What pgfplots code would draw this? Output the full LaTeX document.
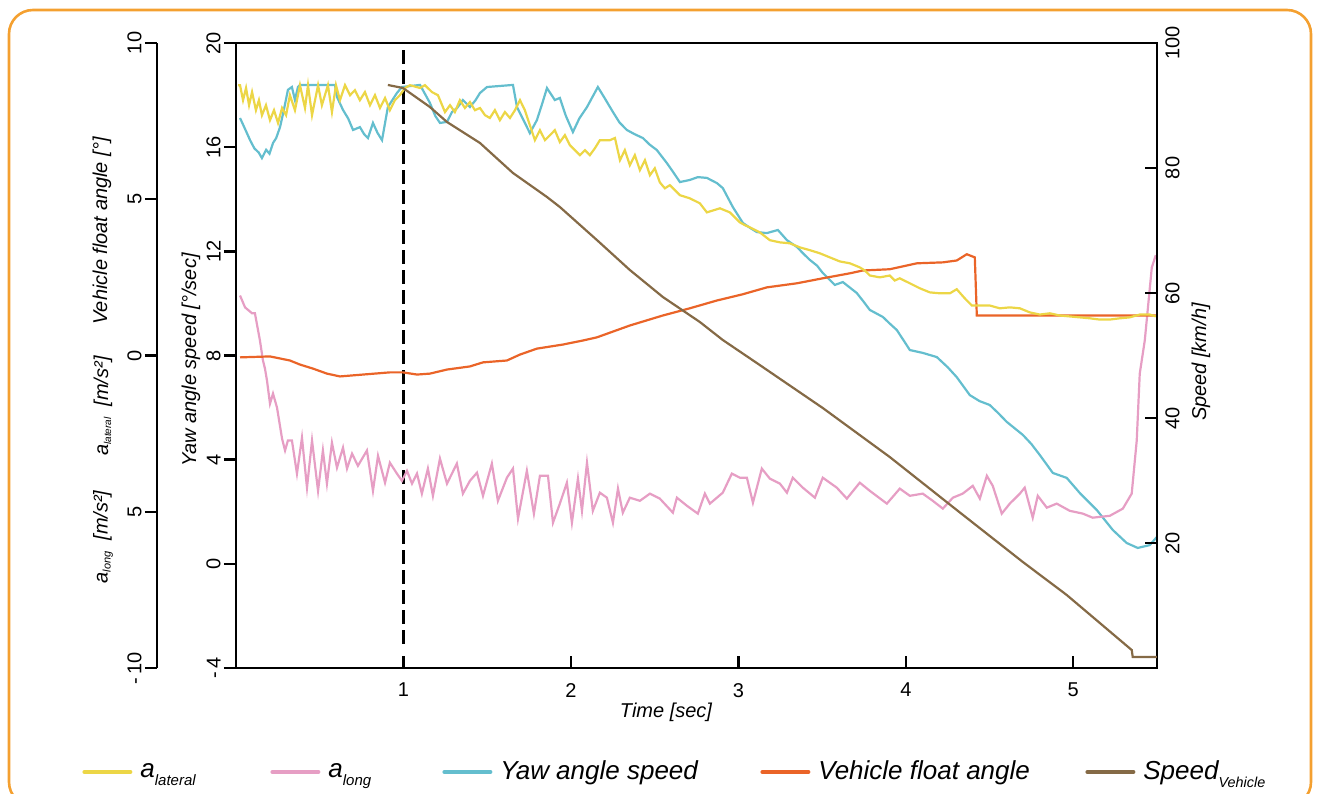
\documentclass[border=0pt]{standalone}
\usepackage{fontspec}
\setmainfont{Liberation Sans}
\usepackage{pgfplots}
\pgfplotsset{compat=1.18}

\definecolor{latcol}{RGB}{236,214,70}
\definecolor{longcol}{RGB}{230,158,196}
\definecolor{yawcol}{RGB}{100,190,206}
\definecolor{floatcol}{RGB}{234,100,40}
\definecolor{speedcol}{RGB}{133,106,70}
\definecolor{framecol}{RGB}{244,160,48}

% lowered small subscript: text, drop, size
\newcommand{\lowsub}[3]{\raisebox{-#2}{\fontsize{#3}{#3}\selectfont #1}}

\pgfplotsset{
  base/.style={at={(0,0)}, anchor=south west, scale only axis,
    width=460.5pt, height=312.5pt, xmin=0, xmax=5.5,
    major tick length=6pt,
    tick style={black, line width=1.2pt},
    axis line style={line width=1.3pt},
    tick label style={font=\fontsize{10}{12}\selectfont}},
}

\begin{document}
\begin{tikzpicture}
% 1 px of the reference = 0.5pt; lower left corner of the plot box is the origin
\begin{scope}[x=0.5pt, y=-0.5pt, shift={(-118pt,334pt)}]
\useasboundingbox (0,0) rectangle (1317,793);
\draw[framecol, line width=1.3pt, rounded corners=12pt] (9,10) rectangle (1311,806);
\begin{scope}[every node/.style={font=\fontsize{10}{12}\selectfont\itshape}]
\node[rotate=90] at (102,231) {Vehicle float angle [°]};
\node[rotate=90] at (103,406) {a\lowsub{lateral}{1.5pt}{5}\ \ [m/s²]};
\node[rotate=90] at (103,537) {a\lowsub{long}{1.5pt}{5.5}\ \ [m/s²]};
\node[rotate=90] at (191,360) {Yaw angle speed [°/sec]};
\node[rotate=90] at (1201,362) {Speed [km/h]};
\node at (666,712) {Time [sec]};
\end{scope}
\end{scope}

% yaw angle speed (main box, inner left scale)
\begin{axis}[base, ymin=-4, ymax=20,
  xtick=\empty,
  ytick={-4,0,...,20}, yticklabels={{-\,4},0,4,8,12,16,20},
  ytick pos=left, tick align=outside,
  yticklabel style={rotate=90, anchor=south, inner sep=1.5pt},
  legend style={draw=none, fill=none, at={(-0.1672,-0.1664)}, anchor=west,
    inner sep=0pt, font=\fontsize{13}{15}\selectfont\itshape,
    nodes={inner sep=0pt},
    /tikz/every odd column/.append style={column sep=4pt}},
  legend columns=5,
  legend image code/.code={\draw[#1, line width=2pt, line cap=round] (0pt,0pt) -- (23pt,0pt);},
]
\addlegendimage{latcol}
\addlegendentry{\makebox[65pt][l]{a\lowsub{lateral}{4pt}{7.5}}}
\addlegendimage{longcol}
\addlegendentry{\makebox[57pt][l]{a\lowsub{long}{4pt}{7.5}}}
\addlegendimage{yawcol}
\addlegendentry{\makebox[130pt][l]{Yaw angle speed}}
\addlegendimage{floatcol}
\addlegendentry{\makebox[133.5pt][l]{Vehicle float angle}}
\addlegendimage{speedcol}
\addlegendentry{Speed\lowsub{Vehicle}{4pt}{7.2}}

\addplot[yawcol, line width=1.1pt, forget plot] coordinates {
(0.024,17.12) (0.054,16.70) (0.084,16.27) (0.110,15.95) (0.135,15.80) (0.155,15.58)
(0.180,15.90) (0.200,15.75) (0.221,16.16) (0.240,16.35) (0.263,16.77) (0.285,17.40) (0.310,18.20)
(0.334,18.31) (0.352,17.81) (0.370,18.31) (0.382,18.39) (0.591,18.39) (0.603,17.93)
(0.639,17.43) (0.670,17.10) (0.699,16.66) (0.740,16.77) (0.765,16.50) (0.788,16.35) (0.818,16.93)
(0.845,16.55) (0.872,16.27) (0.907,17.54) (0.961,18.08) (0.991,18.31) (1.099,18.39) (1.158,17.70)
(1.190,17.20) (1.218,16.93) (1.260,16.97) (1.290,17.35) (1.320,17.50) (1.355,17.81) (1.397,17.54)
(1.430,17.80) (1.457,18.08) (1.499,18.31) (1.654,18.39) (1.678,17.54) (1.720,17.00) (1.755,16.54)
(1.797,17.04) (1.830,17.70) (1.857,18.27) (1.904,17.81) (1.934,17.89) (1.970,17.20) (2.012,16.58)
(2.050,17.10) (2.096,17.54) (2.161,18.31) (2.200,17.90) (2.251,17.35) (2.290,16.95) (2.334,16.66)
(2.380,16.50) (2.430,16.35) (2.470,16.10) (2.513,15.89) (2.573,15.39) (2.610,15.05) (2.651,14.66)
(2.710,14.74) (2.758,14.85) (2.812,14.82) (2.872,14.62) (2.907,14.43) (2.967,13.70) (3.027,13.09)
(3.070,12.90) (3.110,12.74) (3.170,12.70) (3.236,12.82) (3.290,12.43) (3.349,12.17) (3.390,11.90)
(3.427,11.67) (3.470,11.45) (3.504,11.17) (3.576,10.71) (3.624,10.82) (3.707,10.40) (3.750,10.05)
(3.785,9.75) (3.863,9.48) (3.900,9.25) (3.946,8.98) (3.990,8.55) (4.024,8.21) (4.101,8.10)
(4.185,7.94) (4.250,7.55) (4.304,7.17) (4.382,6.48) (4.440,6.25) (4.501,6.10) (4.550,5.80)
(4.603,5.45) (4.699,4.95) (4.750,4.60) (4.800,4.18) (4.878,3.49) (4.961,3.30) (5.039,2.72)
(5.140,2.07) (5.236,1.30) (5.319,0.80) (5.385,0.61) (5.457,0.72) (5.499,1.03)
};
\addplot[black, line width=1.5pt, dash pattern=on 7pt off 3pt, forget plot]
  coordinates {(1,19.73) (1,-3.31)};
\end{axis}

% time axis, ticks inside
\begin{axis}[base, ymin=0, ymax=1, hide y axis, axis x line*=bottom,
  xtick={1,2,3,4,5}, xticklabels={1,2,3,4,5}, tick align=inside,
  xticklabel style={yshift=-4pt}]
\end{axis}

% a_lateral, a_long, float angle (outer left scale)
\begin{axis}[base, ymin=-10, ymax=10, hide axis]
\addplot[longcol, line width=1.1pt] coordinates {
(0.024,1.92) (0.054,1.54) (0.096,1.35) (0.113,1.35) (0.143,0.48) (0.161,-0.16) (0.173,-0.42)
(0.185,-0.80) (0.203,-1.54) (0.221,-1.22) (0.245,-1.67) (0.275,-2.66) (0.293,-3.04) (0.310,-2.72)
(0.334,-2.72) (0.364,-3.78) (0.394,-2.63) (0.424,-4.23) (0.454,-2.72) (0.490,-4.33) (0.519,-3.04)
(0.543,-4.10) (0.573,-2.79) (0.603,-3.59) (0.639,-2.95) (0.663,-3.62) (0.693,-3.14) (0.728,-3.53)
(0.782,-3.04) (0.818,-4.33) (0.848,-3.21) (0.890,-4.07) (0.919,-3.43) (0.961,-3.78) (0.991,-4.01)
(1.021,-3.69) (1.051,-4.10) (1.081,-3.78) (1.110,-4.42) (1.146,-3.62) (1.176,-4.49) (1.218,-3.30)
(1.260,-4.10) (1.319,-3.46) (1.355,-4.42) (1.397,-4.01) (1.439,-3.75) (1.475,-4.49) (1.528,-3.46)
(1.564,-4.65) (1.618,-3.91) (1.654,-3.62) (1.684,-5.22) (1.737,-3.69) (1.779,-5.06) (1.815,-3.85)
(1.863,-3.85) (1.893,-5.35) (1.934,-4.74) (1.976,-4.07) (2.006,-5.35) (2.042,-3.94) (2.066,-4.97)
(2.096,-3.43) (2.131,-4.97) (2.173,-4.39) (2.215,-4.55) (2.251,-5.35) (2.281,-4.26) (2.310,-5.03)
(2.352,-4.55) (2.412,-4.65) (2.472,-4.42) (2.531,-4.58) (2.609,-5.03) (2.633,-4.55) (2.693,-4.81)
(2.758,-5.06) (2.800,-4.42) (2.830,-4.74) (2.907,-4.39) (2.961,-3.78) (3.009,-3.91) (3.051,-3.91)
(3.087,-4.71) (3.140,-3.62) (3.188,-3.94) (3.248,-4.10) (3.290,-4.39) (3.325,-3.91) (3.385,-4.23)
(3.457,-4.55) (3.504,-3.91) (3.588,-4.23) (3.648,-4.58) (3.725,-4.07) (3.785,-4.33) (3.887,-4.74)
(3.964,-4.26) (4.024,-4.49) (4.101,-4.42) (4.161,-4.65) (4.221,-4.90) (4.281,-4.55) (4.340,-4.42)
(4.400,-4.17) (4.442,-4.58) (4.484,-3.85) (4.519,-4.17) (4.573,-5.06) (4.621,-4.74) (4.681,-4.42)
(4.710,-4.23) (4.758,-5.19) (4.788,-4.49) (4.842,-4.87) (4.901,-4.74) (4.979,-4.97) (5.057,-5.06)
(5.116,-5.19) (5.218,-5.13) (5.296,-4.90) (5.349,-4.42) (5.379,-2.72) (5.397,-0.58) (5.427,0.48)
(5.469,2.82) (5.493,3.21)
};
\addplot[floatcol, line width=1.1pt] coordinates {
(0.024,-0.06) (0.203,-0.03) (0.322,-0.16) (0.382,-0.29) (0.460,-0.42) (0.543,-0.58) (0.621,-0.67)
(0.758,-0.61) (0.919,-0.54) (0.997,-0.54) (1.081,-0.61) (1.158,-0.58) (1.260,-0.45) (1.397,-0.35)
(1.475,-0.22) (1.618,-0.16) (1.696,0.03) (1.797,0.22) (1.952,0.35) (2.072,0.48) (2.155,0.58)
(2.352,0.96) (2.549,1.28) (2.710,1.51) (2.872,1.76) (3.027,1.96) (3.170,2.18) (3.349,2.31)
(3.504,2.47) (3.666,2.63) (3.743,2.72) (3.904,2.76) (4.066,2.95) (4.221,2.98) (4.304,3.04)
(4.364,3.24) (4.412,3.14) (4.424,1.28) (5.499,1.28)
};
\addplot[latcol, line width=1.1pt] coordinates {
(0.012,8.65) (0.024,8.65) (0.042,8.17) (0.060,8.56) (0.078,8.01) (0.096,8.43) (0.119,7.85)
(0.137,8.17) (0.155,7.69) (0.179,8.01) (0.203,7.53) (0.227,7.85) (0.251,7.44) (0.275,7.92)
(0.299,7.69) (0.322,8.33) (0.352,7.85) (0.382,8.65) (0.412,7.92) (0.430,8.65) (0.454,7.69)
(0.490,8.65) (0.513,8.01) (0.549,8.65) (0.573,7.79) (0.597,8.65) (0.621,8.17) (0.651,8.65)
(0.681,8.33) (0.710,8.49) (0.740,8.17) (0.770,8.43) (0.800,8.01) (0.830,8.33) (0.860,7.92)
(0.890,8.24) (0.919,7.85) (0.949,8.17) (0.979,8.33) (1.009,8.56) (1.039,8.65) (1.099,8.56)
(1.128,8.65) (1.170,8.43) (1.206,8.33) (1.248,7.79) (1.278,8.01) (1.307,7.79) (1.337,8.17)
(1.367,7.92) (1.397,8.11) (1.427,7.85) (1.457,7.92) (1.487,7.69) (1.516,7.60) (1.546,7.85)
(1.576,7.53) (1.606,7.79) (1.636,7.60) (1.666,7.85) (1.696,8.17) (1.725,7.85) (1.755,7.37)
(1.785,6.89) (1.815,7.21) (1.845,6.89) (1.875,7.05) (1.904,7.21) (1.934,6.83) (1.964,7.05)
(1.994,6.73) (2.024,6.57) (2.054,6.41) (2.084,6.57) (2.113,6.41) (2.143,6.63) (2.173,6.89)
(2.233,6.89) (2.263,6.96) (2.293,6.25) (2.322,6.57) (2.352,6.09) (2.382,6.41) (2.412,5.93)
(2.442,6.25) (2.472,5.77) (2.501,5.99) (2.531,5.54) (2.561,5.35) (2.591,5.45) (2.621,5.29)
(2.651,5.13) (2.710,5.03) (2.770,4.87) (2.812,4.58) (2.890,4.71) (2.949,4.58) (3.009,4.26)
(3.039,4.17) (3.069,4.10) (3.128,3.94) (3.188,3.69) (3.248,3.62) (3.307,3.59) (3.367,3.46)
(3.427,3.37) (3.487,3.27) (3.546,3.14) (3.606,3.01) (3.666,2.95) (3.725,2.82) (3.755,2.72)
(3.785,2.56) (3.845,2.50) (3.904,2.56) (3.934,2.40) (3.964,2.47) (4.024,2.31) (4.084,2.15)
(4.143,2.02) (4.203,1.99) (4.263,1.99) (4.304,2.12) (4.352,1.83) (4.394,1.60) (4.442,1.60)
(4.501,1.60) (4.561,1.51) (4.621,1.54) (4.681,1.51) (4.740,1.38) (4.800,1.31) (4.860,1.35)
(4.919,1.28) (4.979,1.25) (5.039,1.22) (5.099,1.19) (5.158,1.15) (5.218,1.15) (5.278,1.19)
(5.337,1.22) (5.397,1.31) (5.457,1.31) (5.493,1.25)
};
\end{axis}

% outer left spine
\begin{axis}[at={(-39.5pt,0)}, anchor=south west, scale only axis,
  width=10pt, height=312.5pt, xmin=0, xmax=1, ymin=-10, ymax=10,
  hide x axis, axis y line*=left,
  ytick={-10,-5,0,5,10}, yticklabels={{-\,10},5,0,5,10},
  tick align=outside, major tick length=6pt,
  tick style={black, line width=1.2pt}, axis line style={line width=1.3pt},
  tick label style={font=\fontsize{10}{12}\selectfont},
  yticklabel style={rotate=90, anchor=south, inner sep=1.5pt}]
\end{axis}

% speed (right scale)
\begin{axis}[base, ymin=0, ymax=100, hide x axis, axis y line*=right,
  ytick={20,40,60,80,100}, yticklabels={20,40,60,80,100}, tick align=inside,
  yticklabel style={rotate=90, anchor=north, inner sep=4pt}]
\addplot[speedcol, line width=1.1pt] coordinates {
(0.907,93.28) (0.997,92.80) (1.158,89.76) (1.260,87.36) (1.457,84.00) (1.654,79.20) (1.857,75.36)
(1.934,73.76) (2.155,68.48) (2.352,63.68) (2.549,59.36) (2.770,55.36) (2.907,52.48) (3.110,48.80)
(3.504,41.60) (3.904,33.76) (4.304,25.28) (4.699,16.96) (4.961,11.68) (5.349,2.88) (5.355,1.76)
(5.499,1.76)
};
\end{axis}
\end{tikzpicture}
\end{document}
